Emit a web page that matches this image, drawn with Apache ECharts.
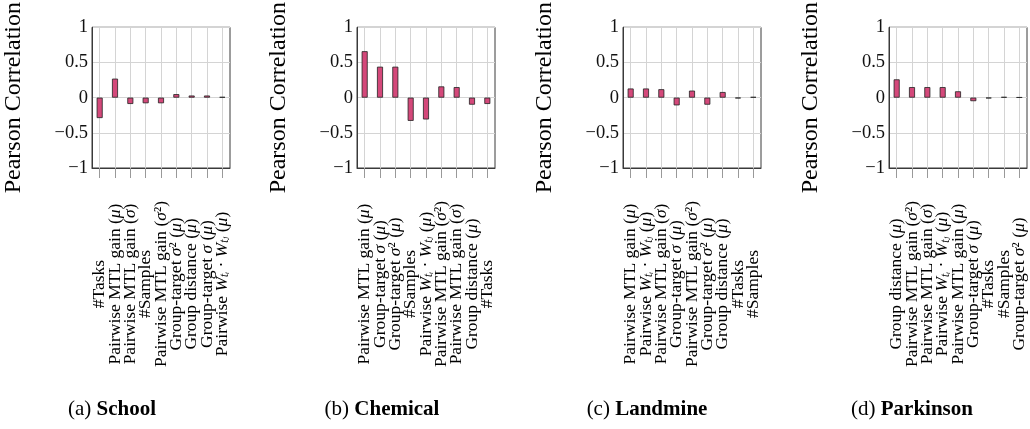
<!DOCTYPE html>
<html>
<head>
<meta charset="utf-8">
<title>Pearson correlation per dataset</title>
<style>
  html, body { margin: 0; padding: 0; background: #fff; }
  #chart { width: 1030px; height: 429px; }
</style>
</head>
<body>
<div id="chart"></div>
<script src="https://cdn.jsdelivr.net/npm/echarts@6/dist/echarts.min.js"></script>
<script>
// features, ordered per dataset as in the figure
const schoolLabels = ['#Tasks', 'Pairwise MTL gain (μ)', 'Pairwise MTL gain (σ)', '#Samples',
  'Pairwise MTL gain (σ²)', 'Group-target σ² (μ)', 'Group distance (μ)', 'Group-target σ (μ)',
  'Pairwise W_ti · W_tj (μ)'];
const schoolValues = [-0.29, 0.27, -0.09, -0.08, -0.08, 0.05, 0.03, 0.03, 0.01];

const chemicalLabels = ['Pairwise MTL gain (μ)', 'Group-target σ (μ)', 'Group-target σ² (μ)', '#Samples',
  'Pairwise W_ti · W_tj (μ)', 'Pairwise MTL gain (σ²)', 'Pairwise MTL gain (σ)', 'Group distance (μ)',
  '#Tasks'];
const chemicalValues = [0.66, 0.44, 0.44, -0.33, -0.31, 0.16, 0.15, -0.10, -0.09];

const landmineLabels = ['Pairwise MTL gain (μ)', 'Pairwise W_ti · W_tj (μ)', 'Pairwise MTL gain (σ)',
  'Group-target σ (μ)', 'Pairwise MTL gain (σ²)', 'Group-target σ² (μ)', 'Group distance (μ)',
  '#Tasks', '#Samples'];
const landmineValues = [0.13, 0.13, 0.12, -0.11, 0.10, -0.10, 0.08, -0.01, 0.01];

const parkinsonLabels = ['Group distance (μ)', 'Pairwise MTL gain (σ²)', 'Pairwise MTL gain (σ)',
  'Pairwise W_ti · W_tj (μ)', 'Pairwise MTL gain (μ)', 'Group-target σ (μ)', '#Tasks', '#Samples',
  'Group-target σ² (μ)'];
const parkinsonValues = [0.26, 0.15, 0.15, 0.15, 0.09, -0.05, -0.01, 0.01, 0.005];

const captions = ['(a) {b|School}', '(b) {b|Chemical}', '(c) {b|Landmine}', '(d) {b|Parkinson}'];

const panels = [
  [schoolLabels, schoolValues],
  [chemicalLabels, chemicalValues],
  [landmineLabels, landmineValues],
  [parkinsonLabels, parkinsonValues]
];

const serif = '"Liberation Serif", "DejaVu Serif", serif';
const lefts = [92, 357, 623, 889];
const capX = [107, 377, 642, 907];

function labelFmt(name) {
  return name
    .replace('W_ti', '{i|W}{s|tᵢ}')
    .replace('W_tj', '{i|W}{s|tⱼ}')
    .replace(/([μσ])/g, '{i|$1}');
}

function tickFmt(v) {
  return v < 0 ? '\u2212' + (-v) : String(v);
}

const grid = [], xAxis = [], yAxis = [], series = [], title = [];

panels.forEach(([labels, values], i) => {
  grid.push({
    left: lefts[i], top: 24, width: 138, height: 144,
    show: true, borderColor: '#3a3a3a', borderWidth: 1, backgroundColor: 'transparent'
  });
  xAxis.push({
    type: 'category', gridIndex: i, data: labels,
    axisLine: { show: true, onZero: false, lineStyle: { color: '#3a3a3a' } },
    axisTick: { show: true, alignWithLabel: true, length: 10, lineStyle: { color: '#999' } },
    splitLine: { show: true, alignWithLabel: true, lineStyle: { color: '#d4d4d4' } },
    axisLabel: {
      interval: 0, rotate: 90, align: 'center', margin: 116,
      fontFamily: serif, fontSize: 17.5, color: '#000',
      formatter: labelFmt,
      rich: {
        i: { fontFamily: serif, fontStyle: 'italic', fontSize: 17.5 },
        s: { fontFamily: serif, fontStyle: 'italic', fontSize: 11.5, verticalAlign: 'bottom' }
      }
    }
  });
  yAxis.push({
    type: 'value', gridIndex: i, min: -1, max: 1, interval: 0.5,
    name: 'Pearson Correlation', nameLocation: 'middle', nameGap: 66,
    nameTextStyle: { fontFamily: serif, fontSize: 24, color: '#000' },
    axisLine: { show: true, lineStyle: { color: '#3a3a3a' } },
    axisTick: { show: false },
    splitLine: { show: true, lineStyle: { color: '#d4d4d4' } },
    axisLabel: { fontFamily: serif, fontSize: 18.5, color: '#111', margin: 4, formatter: tickFmt }
  });
  series.push({
    type: 'bar', xAxisIndex: i, yAxisIndex: i, data: values,
    barWidth: 6,
    itemStyle: { color: '#d4487a', borderColor: '#222', borderWidth: 0.8 }
  });
  title.push({
    text: captions[i], left: capX[i], top: 394, textAlign: 'center',
    textStyle: {
      fontFamily: serif, fontSize: 21, fontWeight: 'normal', color: '#000',
      rich: { b: { fontFamily: serif, fontSize: 21, fontWeight: 'bold', color: '#000' } }
    }
  });
});

const chart = echarts.init(document.getElementById('chart'));
chart.setOption({
  animation: false,
  title: title,
  grid: grid,
  xAxis: xAxis,
  yAxis: yAxis,
  series: series
});
</script>
</body>
</html>
